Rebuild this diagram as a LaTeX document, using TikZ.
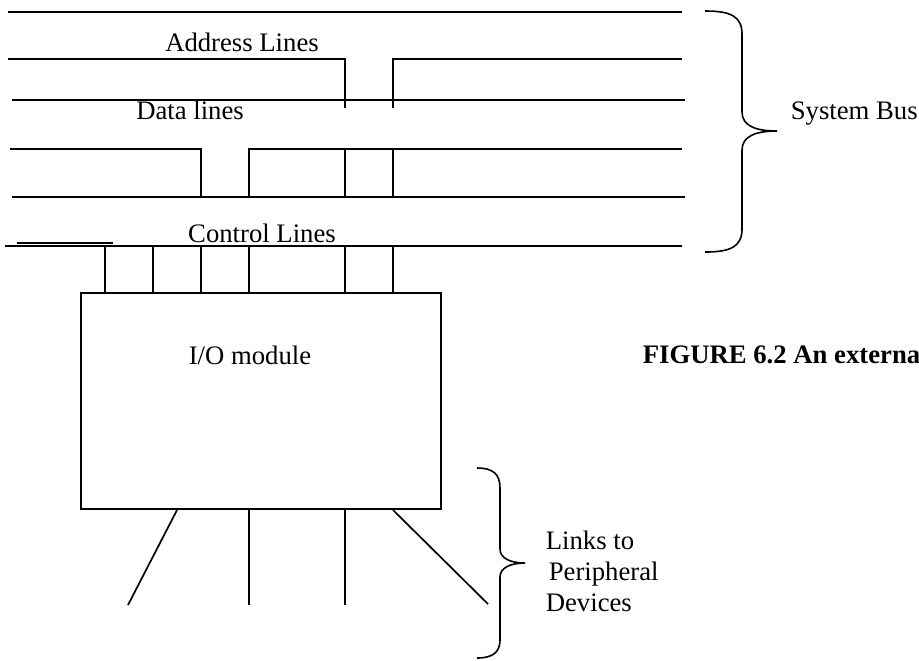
\documentclass[tikz,border=0pt]{standalone}
\usepackage{fontspec}
\setmainfont{Liberation Serif}
\usetikzlibrary{positioning}

\begin{document}
\begin{tikzpicture}[
    x=0.5pt, y=-0.5pt,
    line width=0.85pt,
    font=\fontsize{13.35}{15.5}\selectfont,
    lbl/.style={inner sep=0pt, anchor=base},
    module/.style={rectangle, draw, line width=1pt, minimum width=180pt, minimum height=108pt, inner sep=0pt},
    curly/.style={line width=0.8pt}
]
    \useasboundingbox (0,0) rectangle (919,660);
    \clip (0,0) rectangle (919,660);

    % Bus labels
    \node (addr) [lbl] at (242,51) {Address Lines};
    \node (data) [lbl] at (190,119) {Data lines};
    \node (ctrl) [lbl] at (262,242) {Control Lines};
    \node (sysbus) [lbl, anchor=base west] at (790,119) {System Bus};

    % The I/O module
    \node (io) [module] at (261,401) {};
    \node (iolbl) [lbl] at (250,364) {I/O module};
    \node (caption) [lbl, anchor=base west, font=\fontsize{13.35}{15.5}\selectfont\bfseries] at (642,363) {FIGURE 6.2 An external};

    % Bus lines
    \draw (8,12) -- (682,12);
    \draw (8,59) -- (345,59) -- (345,108);
    \draw (393,108) -- (393,59) -- (682,59);
    \draw (12,100) -- (685,100);
    \draw (10,149) -- (201,149) -- (201,197);
    \draw (249,197) -- (249,149) -- (682,149);
    \draw (345,149) -- (345,197);
    \draw (393,149) -- (393,197);
    \draw (12,197) -- (685,197);
    \draw (5,246) -- (682,246);
    \draw [line width=1pt] (17,243) -- (113,243);

    % Drops from the control lines into the module
    \foreach \x in {105,153,201,249,345,393}
        \draw (\x,246) -- (\x,246 |- io.north);

    % Links to the devices
    \coordinate (dev1) at (128,605);
    \coordinate (dev2) at (249,605);
    \coordinate (dev3) at (345,605);
    \coordinate (dev4) at (488,604);
    \draw (io.south -| 177,0) -- (dev1);
    \draw (io.south -| 249,0) -- (dev2);
    \draw (io.south -| 345,0) -- (dev3);
    \draw (io.south -| 393,0) -- (dev4);

    % Braces
    \draw [curly] (705,11) .. controls (730,11) and (742,16) .. (742,34)
        -- (742,112) .. controls (742,126) and (756,131) .. (777,131)
        .. controls (756,131) and (742,136) .. (742,150)
        -- (742,229) .. controls (742,247) and (730,252) .. (705,252);
    \draw [curly] (477,468) .. controls (493,468) and (500,474) .. (500,488)
        -- (500,549) .. controls (500,558) and (510,563) .. (525,563)
        .. controls (510,563) and (500,568) .. (500,577)
        -- (500,640) .. controls (500,652) and (493,658) .. (477,658);
    \node (links) [inner sep=0pt, anchor=north west, align=left] at (545,530) {Links to\\\hspace*{1.5pt}Peripheral\\Devices};

\end{tikzpicture}
\end{document}
